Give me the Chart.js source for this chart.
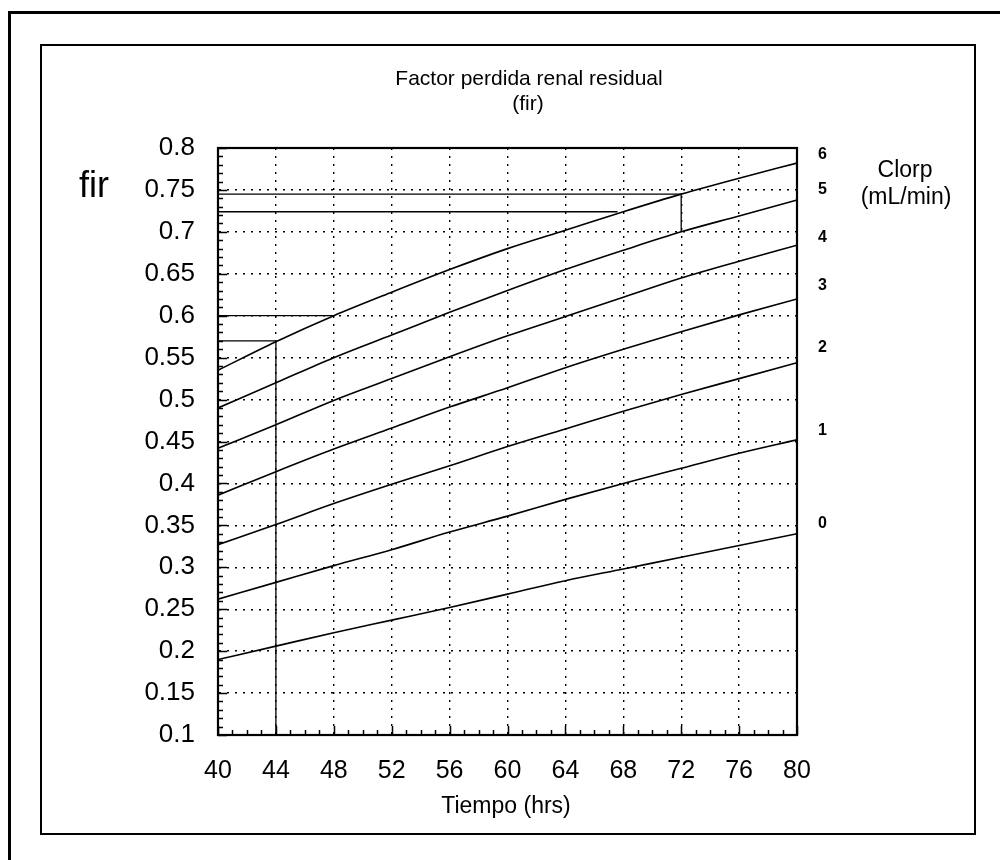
<!DOCTYPE html>
<html>
<head>
<meta charset="utf-8">
<script src="https://cdn.jsdelivr.net/npm/chart.js@4"></script>
<style>
    body { margin: 0; background: #fff; }
    canvas { display: block; }
</style>
</head>
<body>
<canvas id="chart" width="1000" height="860"></canvas>
<script>
// tiempo (hrs)
const hours = [40, 44, 48, 52, 56, 60, 64, 68, 72, 76, 80];

// fir por cada Clorp (mL/min)
const clorp_0 = [0.190, 0.206, 0.222, 0.237, 0.252, 0.268, 0.284, 0.298, 0.312, 0.326, 0.340];
const clorp_1 = [0.262, 0.282, 0.302, 0.321, 0.342, 0.361, 0.381, 0.400, 0.418, 0.436, 0.452];
const clorp_2 = [0.327, 0.351, 0.376, 0.399, 0.421, 0.444, 0.465, 0.486, 0.506, 0.525, 0.544];
const clorp_3 = [0.386, 0.414, 0.441, 0.466, 0.491, 0.514, 0.538, 0.560, 0.581, 0.601, 0.620];
const clorp_4 = [0.442, 0.470, 0.499, 0.525, 0.551, 0.576, 0.599, 0.622, 0.645, 0.665, 0.684];
const clorp_5 = [0.490, 0.520, 0.550, 0.577, 0.604, 0.630, 0.655, 0.678, 0.700, 0.719, 0.738];
const clorp_6 = [0.535, 0.569, 0.600, 0.628, 0.655, 0.680, 0.702, 0.724, 0.745, 0.764, 0.782];

// etiquetas del eje derecho
const clorp_labels = ["0", "1", "2", "3", "4", "5", "6"];
const clorp_label_at = [0.352, 0.463, 0.562, 0.636, 0.693, 0.750, 0.792];

// lineas de lectura (horizontales y verticales)
const read_lines = [
    [{x: 40, y: 0.745}, {x: 72, y: 0.745}, {x: 72, y: 0.700}],
    [{x: 40, y: 0.724}, {x: 67.6, y: 0.724}],
    [{x: 40, y: 0.600}, {x: 48, y: 0.600}],
    [{x: 40, y: 0.570}, {x: 44, y: 0.570}, {x: 44, y: 0.100}]
];

const font_family = "'Liberation Sans', Arial, sans-serif";

function to_points(values) {
    return hours.map((h, i) => ({x: h, y: values[i]}));
}

let datasets = [clorp_0, clorp_1, clorp_2, clorp_3, clorp_4, clorp_5, clorp_6].map(values => ({
    data: to_points(values),
    borderColor: "#000",
    borderWidth: 1.6,
    pointRadius: 0,
    tension: 0.4,
    cubicInterpolationMode: "monotone"
}));

read_lines.forEach(points => {
    datasets.push({
        data: points,
        borderColor: "#000",
        borderWidth: 1.3,
        pointRadius: 0,
        tension: 0
    });
});

const frame_plugin = {
    id: "frame",
    beforeDraw(chart) {
        const ctx = chart.ctx;
        ctx.save();
        ctx.strokeStyle = "#000";
        // marco exterior
        ctx.lineWidth = 3;
        ctx.beginPath();
        ctx.moveTo(9.5, 870);
        ctx.lineTo(9.5, 12.5);
        ctx.lineTo(1010, 12.5);
        ctx.stroke();
        // marco interior
        ctx.lineWidth = 2;
        ctx.strokeRect(41, 45, 934, 789);
        ctx.restore();
    },
    afterDraw(chart) {
        const ctx = chart.ctx;
        const area = chart.chartArea;
        const xs = chart.scales.x;
        const ys = chart.scales.y;
        ctx.save();
        ctx.strokeStyle = "#000";
        ctx.lineWidth = 1.5;
        ctx.beginPath();
        // rayitas menores en el eje y, cada 0.01
        for (let i = 10; i <= 80; i++) {
            let y = Math.round(ys.getPixelForValue(i / 100)) + 0.5;
            let len = i % 5 === 0 ? 9 : 5;
            ctx.moveTo(area.left, y);
            ctx.lineTo(area.left + len, y);
        }
        // rayitas menores en el eje x, cada hora
        for (let h = 40; h <= 80; h++) {
            let x = Math.round(xs.getPixelForValue(h)) + 0.5;
            let len = h % 4 === 0 ? 9 : 5;
            ctx.moveTo(x, area.bottom);
            ctx.lineTo(x, area.bottom - len);
        }
        ctx.stroke();
        ctx.lineWidth = 2.2;
        ctx.strokeRect(area.left, area.top, area.right - area.left, area.bottom - area.top);

        ctx.fillStyle = "#000";
        ctx.textAlign = "center";
        ctx.textBaseline = "middle";
        ctx.font = "21px " + font_family;
        ctx.fillText("Factor perdida renal residual", 529, 79);
        ctx.fillText("(fir)", 528, 104);
        ctx.font = "36px " + font_family;
        ctx.fillText("fir", 94, 187);
        ctx.font = "23px " + font_family;
        ctx.fillText("Clorp", 905, 171);
        ctx.fillText("(mL/min)", 906, 198);
        ctx.fillText("Tiempo (hrs)", 506, 807);
        ctx.restore();
    }
};

new Chart(document.getElementById("chart"), {
    type: "line",
    data: {datasets: datasets},
    options: {
        responsive: false,
        animation: false,
        layout: {padding: {top: 148, left: 0, right: 0, bottom: 0}},
        plugins: {
            legend: {display: false},
            title: {display: false},
            tooltip: {enabled: false}
        },
        scales: {
            x: {
                type: "linear",
                min: 40,
                max: 80,
                afterFit: scale => { scale.height = 125; },
                ticks: {
                    stepSize: 4,
                    padding: 21,
                    color: "#000",
                    font: {family: font_family, size: 25}
                },
                grid: {color: "#000", lineWidth: 1.4, drawTicks: false},
                border: {color: "#000", width: 2, dash: [2, 6]}
            },
            y: {
                type: "linear",
                min: 0.1,
                max: 0.8,
                afterFit: scale => { scale.width = 218; },
                ticks: {
                    stepSize: 0.05,
                    padding: 23,
                    color: "#000",
                    font: {family: font_family, size: 26},
                    callback: v => String(+v.toFixed(2))
                },
                grid: {color: "#000", lineWidth: 1.4, drawTicks: false},
                border: {color: "#000", width: 2, dash: [2, 6]}
            },
            y2: {
                type: "linear",
                position: "right",
                min: 0.1,
                max: 0.8,
                afterFit: scale => { scale.width = 203; },
                afterBuildTicks: scale => {
                    scale.ticks = clorp_label_at.map(v => ({value: v}));
                },
                ticks: {
                    padding: 21,
                    color: "#000",
                    font: {family: font_family, size: 16, weight: "bold"},
                    callback: (v, i) => clorp_labels[i]
                },
                grid: {display: false, drawTicks: false},
                border: {color: "#000", width: 2}
            }
        }
    },
    plugins: [frame_plugin]
});
</script>
</body>
</html>
